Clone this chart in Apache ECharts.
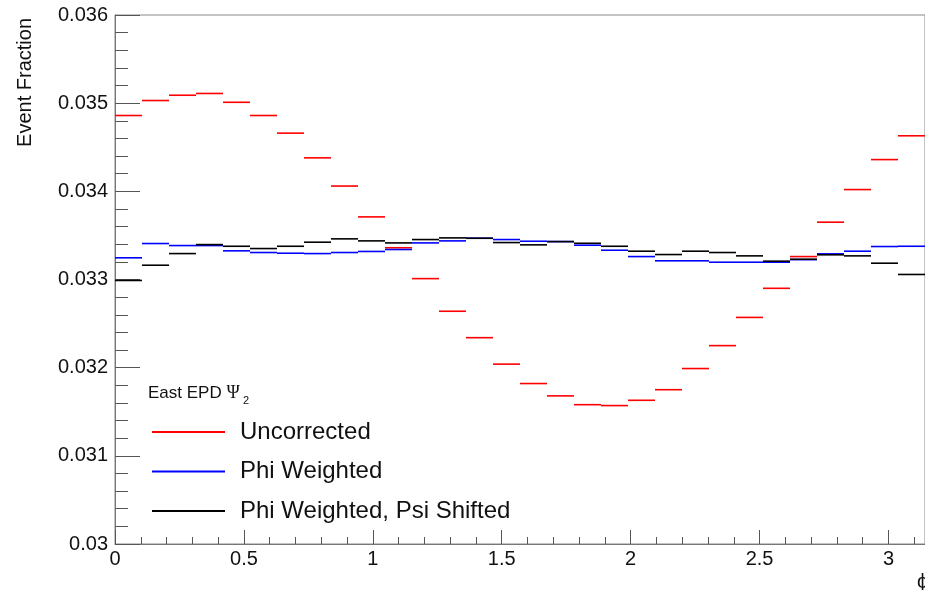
<!DOCTYPE html>
<html>
<head>
<meta charset="utf-8">
<script src="https://cdn.jsdelivr.net/npm/echarts@6/dist/echarts.min.js"></script>
<style>
html,body{margin:0;padding:0;background:#fff;}
#c{width:925px;height:590px;}
</style>
</head>
<body>
<div id="c"></div>
<script>
// ---- data ----
var nBins = 30;
var xMin = 0;
var xMax = Math.PI;
var seriesNames = ['Uncorrected', 'Phi Weighted', 'Phi Weighted, Psi Shifted'];
var uncorrected = [
  0.03486, 0.03503, 0.03509, 0.03511, 0.03501, 0.03486, 0.03466, 0.03438, 0.03406, 0.03371,
  0.03336, 0.03301, 0.03264, 0.03234, 0.03204, 0.03182, 0.03168, 0.03158, 0.03157, 0.03163,
  0.03175, 0.03199, 0.03225, 0.03257, 0.03290, 0.03326, 0.03365, 0.03402, 0.03436, 0.03463
];
var phiWeighted = [
  0.033246, 0.033408, 0.033385, 0.033385, 0.033325, 0.033306, 0.033298, 0.033294, 0.033306, 0.033318,
  0.033340, 0.033415, 0.033438, 0.033468, 0.033453, 0.033434, 0.033430, 0.033389, 0.033332, 0.033260,
  0.033212, 0.033212, 0.033196, 0.033196, 0.033196, 0.033225, 0.033291, 0.033321, 0.033374, 0.033377
];
var psiShifted = [
  0.032989, 0.033162, 0.033294, 0.033396, 0.033377, 0.033351, 0.033377, 0.033423, 0.033461, 0.033438,
  0.033415, 0.033453, 0.033472, 0.033468, 0.033419, 0.033393, 0.033430, 0.033411, 0.033377, 0.033321,
  0.033283, 0.033321, 0.033306, 0.033268, 0.033208, 0.033230, 0.033280, 0.033268, 0.033185, 0.033057
];
var xTickLabels = ['0', '0.5', '1', '1.5', '2', '2.5', '3'];
var yTickLabels = ['0.03', '0.031', '0.032', '0.033', '0.034', '0.035', '0.036'];

// ---- build ----
var binW = (xMax - xMin) / nBins;
function toBins(vals) {
  return vals.map(function (v, i) { return [xMin + i * binW, xMin + (i + 1) * binW, v]; });
}
function renderBin(params, api) {
  var p0 = api.coord([api.value(0), api.value(2)]);
  var p1 = api.coord([api.value(1), api.value(2)]);
  return {
    type: 'line',
    shape: { x1: p0[0], y1: p0[1], x2: p1[0], y2: p1[1] },
    style: { stroke: api.visual('color'), lineWidth: 1.6 }
  };
}
var colors = ['#ff0000', '#0000ff', '#000000'];
var allVals = [uncorrected, phiWeighted, psiShifted];

var font = 'Liberation Sans, Arial, Helvetica, sans-serif';
var chart = echarts.init(document.getElementById('c'), null, { renderer: 'canvas' });
var option = {
  animation: false,
  backgroundColor: '#ffffff',
  grid: { left: 115, top: 15, right: -3, bottom: 46, show: true, borderColor: '#888', borderWidth: 1, containLabel: false },
  xAxis: {
    type: 'value', min: xMin, max: xMax, interval: 0.5,
    axisLine: { show: true, lineStyle: { color: '#777', width: 1 } },
    axisTick: { show: true, inside: true, length: 14, lineStyle: { color: '#555' } },
    minorTick: { show: true, splitNumber: 5, length: 7, lineStyle: { color: '#555' } },
    splitLine: { show: false },
    axisLabel: {
      showMaxLabel: false, margin: 5, color: '#111', fontSize: 20, fontFamily: font,
      formatter: function (v) { var i = Math.round(v / 0.5); return xTickLabels[i] !== undefined ? xTickLabels[i] : ''; }
    }
  },
  yAxis: {
    type: 'value', min: 0.030, max: 0.036, interval: 0.001,
    axisLine: { show: true, lineStyle: { color: '#777', width: 1 } },
    axisTick: { show: true, inside: true, length: 25, lineStyle: { color: '#555' } },
    minorTick: { show: true, splitNumber: 5, length: 13, lineStyle: { color: '#555' } },
    splitLine: { show: false },
    axisLabel: {
      margin: 7, color: '#111', fontSize: 20, fontFamily: font,
      formatter: function (v) { var i = Math.round((v - 0.030) / 0.001); return yTickLabels[i] !== undefined ? yTickLabels[i] : ''; }
    }
  },
  legend: {
    data: seriesNames, orient: 'vertical', left: 152, top: 420, padding: 0,
    itemWidth: 73, itemHeight: 2, itemGap: 15.5, icon: 'rect', selectedMode: false,
    textStyle: { fontSize: 24, lineHeight: 24, color: '#111', fontFamily: font, padding: [0, 0, 0, 10] }
  },
  series: seriesNames.map(function (name, k) {
    return {
      name: name, type: 'custom', renderItem: renderBin,
      itemStyle: { color: colors[k] },
      encode: { x: [0, 1], y: 2 },
      data: toBins(allVals[k]),
      z: 2 + k
    };
  }),
  graphic: [
    { type: 'text', x: 25, y: 18, rotation: Math.PI / 2,
      style: { text: 'Event Fraction', fontSize: 20, fontFamily: font, fill: '#111', align: 'right', verticalAlign: 'middle' } },
    { type: 'text', x: 148, y: 393,
      style: { text: '{a|East EPD }{p|Ψ}', verticalAlign: 'middle', align: 'left',
        rich: { a: { fontSize: 17, fontFamily: font, fill: '#111' }, p: { fontSize: 18, fontFamily: 'Liberation Serif, serif', fill: '#111' } } } },
    { type: 'text', x: 243, y: 401,
      style: { text: '2', fontSize: 11, fontFamily: font, fill: '#111', verticalAlign: 'middle', align: 'left' } },
    { type: 'text', x: 917, y: 582,
      style: { text: 'ϕ', fontSize: 20, fontFamily: font, fill: '#111', verticalAlign: 'middle', align: 'left' } }
  ]
};
chart.setOption(option);
</script>
</body>
</html>
